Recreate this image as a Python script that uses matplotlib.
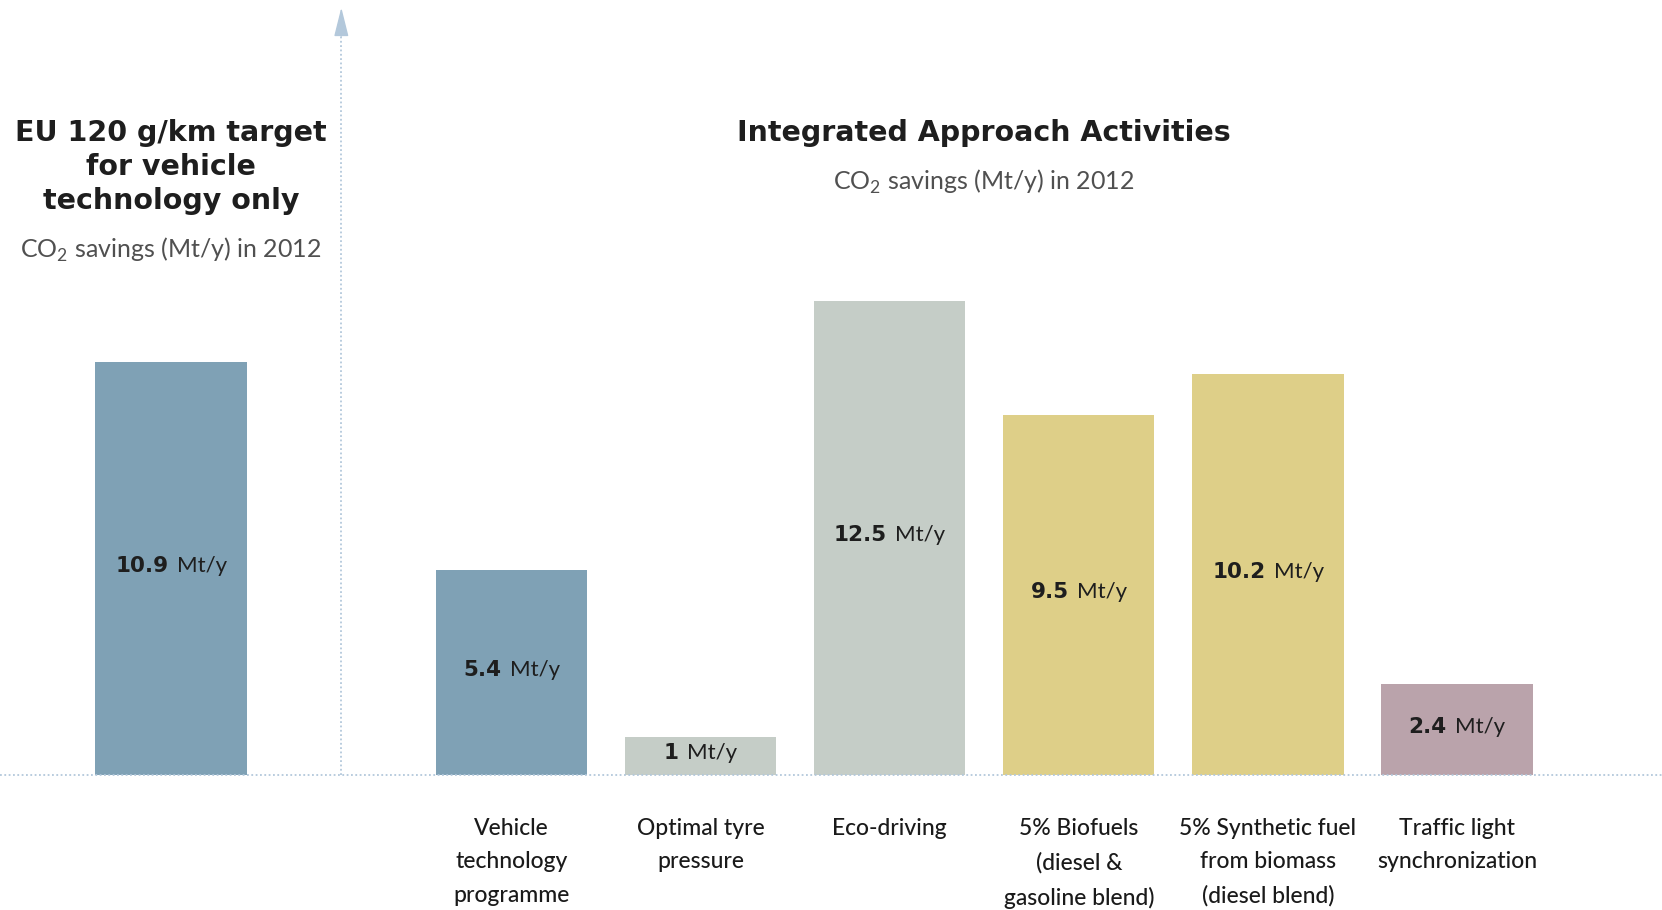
import matplotlib
matplotlib.use("Agg")
import matplotlib.pyplot as plt
from matplotlib.offsetbox import TextArea, HPacker, AnnotationBbox

# data
target_labels = ["10.9"]
target_heights = [10.9]
activities = [
    "Vehicle\ntechnology\nprogramme",
    "Optimal tyre\npressure",
    "Eco-driving",
    "5% Biofuels\n(diesel &\ngasoline blend)",
    "5% Synthetic fuel\nfrom biomass\n(diesel blend)",
    "Traffic light\nsynchronization",
]
activity_labels = ["5.4", "1", "12.5", "9.5", "10.2", "2.4"]
# bar heights as drawn in the source graphic
activity_heights = [5.4, 1.0, 12.5, 9.5, 10.58, 2.4]

blue = "#7fa1b5"
grey = "#c5cdc7"
yellow = "#decf88"
mauve = "#baa3ab"
activity_colors = [blue, grey, grey, yellow, yellow, mauve]
dot_color = "#b3c8db"

light = dict(family=["Lato", "DejaVu Sans"], weight="normal")
regular = dict(family=["Lato", "DejaVu Sans"], weight="medium")
heavy = dict(family=["DejaVu Sans"], weight="bold")
plt.rcParams["mathtext.fontset"] = "custom"
plt.rcParams["mathtext.rm"] = "Lato"

fig = plt.figure(figsize=(16.62, 9.10), dpi=100)
ax = fig.add_axes([0, 0, 1, 1])
ax.set_xlim(-2.705, 6.084)
ax.set_ylim(-3.562, 20.45)
ax.axis("off")

target_x = [-1.8]
act_x = list(range(len(activities)))
divider_x = -0.9

ax.bar(target_x, target_heights, width=0.8, color=blue, zorder=2)
ax.bar(act_x, activity_heights, width=0.8, color=activity_colors, zorder=2)

# dotted baseline and divider with arrow
ax.axhline(0, color=dot_color, lw=1.3, ls=(0, (1, 1.4)), zorder=3)
ax.plot([divider_x, divider_x], [0, 19.6], color=dot_color, lw=1.3,
        ls=(0, (1, 1.4)), zorder=3)
ax.annotate("", xy=(divider_x, 20.25), xytext=(divider_x, 19.5),
            arrowprops=dict(arrowstyle="-|>,head_length=1.8,head_width=0.45",
                            color=dot_color, lw=1.0, mutation_scale=10,
                            shrinkA=0, shrinkB=0))


def value_label(x, h, lab):
    num = TextArea(lab, textprops=dict(fontsize=15.5, color="#1e1e1e", **heavy))
    unit = TextArea("Mt/y", textprops=dict(fontsize=16, color="#1e1e1e",
                                           family=["Lato", "DejaVu Sans"]))
    box = HPacker(children=[num, unit], sep=6, pad=0, align="baseline")
    ab = AnnotationBbox(box, (x, h / 2), xybox=(0, 2),
                        boxcoords="offset points", frameon=False,
                        box_alignment=(0.5, 0.5), zorder=4)
    ax.add_artist(ab)


for x, h, lab in zip(target_x, target_heights, target_labels):
    value_label(x, h, lab)
for x, h, lab in zip(act_x, activity_heights, activity_labels):
    value_label(x, h, lab)

for x, lab in zip(act_x, activities):
    ax.text(x, -1.13, lab, ha="center", va="top", fontsize=16.5,
            color="#1a1a1a", linespacing=1.74, multialignment="center",
            **regular)

# headings
ax.text(target_x[0], 16.04, "EU 120 g/km target\nfor vehicle\ntechnology only",
        ha="center", va="center", fontsize=20.5, color="#1e1e1e",
        linespacing=1.28, multialignment="center", **heavy)
ax.text(target_x[0], 13.85, "CO$_2$ savings (Mt/y) in 2012", ha="center",
        va="center", fontsize=18, color="#505050", **light)
ax.text(2.5, 16.95, "Integrated Approach Activities", ha="center", va="center",
        fontsize=20.5, color="#1e1e1e", **heavy)
ax.text(2.5, 15.66, "CO$_2$ savings (Mt/y) in 2012", ha="center", va="center",
        fontsize=18, color="#505050", **light)

fig.savefig("out.png", dpi=100)
